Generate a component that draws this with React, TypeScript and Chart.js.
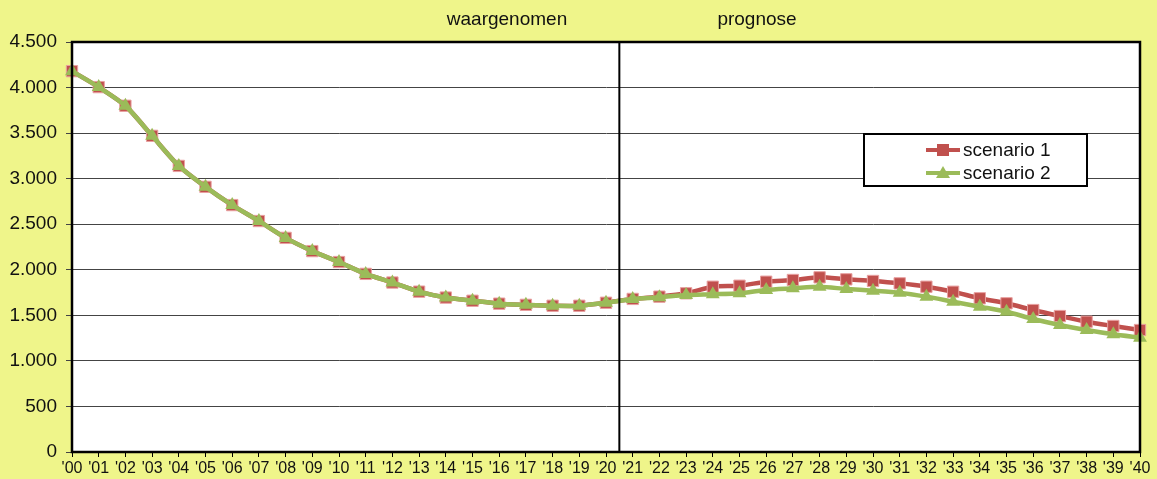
import React, { useEffect, useRef } from "react";
import { Chart, registerables } from "chart.js";

Chart.register(...registerables);

const years: string[] = [
  "'00","'01","'02","'03","'04","'05","'06","'07","'08","'09",
  "'10","'11","'12","'13","'14","'15","'16","'17","'18","'19",
  "'20","'21","'22","'23","'24","'25","'26","'27","'28","'29",
  "'30","'31","'32","'33","'34","'35","'36","'37","'38","'39","'40",
];

const observed: number[] = [
  4180, 4005, 3800, 3470, 3140, 2910, 2710, 2535, 2350, 2205,
  2085, 1955, 1860, 1760, 1695, 1660, 1628, 1615, 1605, 1605, 1638,
];

const scenario1Forecast: number[] = [
  1680, 1705, 1742, 1814, 1825, 1869, 1888, 1917, 1895, 1877,
  1851, 1814, 1759, 1687, 1632, 1558, 1492, 1430, 1383, 1339,
];

const scenario2Forecast: number[] = [
  1680, 1698, 1723, 1731, 1742, 1778, 1796, 1814, 1789, 1771,
  1749, 1705, 1650, 1595, 1540, 1460, 1394, 1339, 1292, 1255,
];

const seriesNames: string[] = ["scenario 1", "scenario 2"];
const periodLabels: string[] = ["waargenomen", "prognose"];
const yTicks: number[] = [0, 500, 1000, 1500, 2000, 2500, 3000, 3500, 4000, 4500];

const scenario1 = [...observed, ...scenario1Forecast];
const scenario2 = [...observed, ...scenario2Forecast];

const RED = "#C0504D";
const GREEN = "#9BBB59";
const FONT = "Arial, 'Liberation Sans', sans-serif";

const framePlugin = {
  id: "frame",
  afterDatasetsDraw(chart: any) {
    const { ctx, chartArea } = chart;
    const xs = chart.scales.x;
    ctx.save();
    const x20 = xs.getPixelForValue(observed.length - 1);
    const x21 = xs.getPixelForValue(observed.length);
    const xd = (x20 + x21) / 2;
    ctx.strokeStyle = "#000";
    ctx.lineWidth = 2;
    ctx.beginPath();
    ctx.moveTo(xd, chartArea.top);
    ctx.lineTo(xd, chartArea.bottom);
    ctx.stroke();
    ctx.lineWidth = 2.5;
    ctx.strokeRect(chartArea.left, chartArea.top, chartArea.right - chartArea.left, chartArea.bottom - chartArea.top);
    ctx.fillStyle = "#111";
    ctx.font = "19px " + FONT;
    ctx.textAlign = "center";
    ctx.textBaseline = "middle";
    ctx.fillText(periodLabels[0], 507, 20);
    ctx.fillText(periodLabels[1], 757, 20);
    const bx = 864, by = 134, bw = 223, bh = 52;
    ctx.fillStyle = "#fff";
    ctx.fillRect(bx, by, bw, bh);
    ctx.strokeStyle = "#000";
    ctx.lineWidth = 2;
    ctx.strokeRect(bx, by, bw, bh);
    const rows = [
      { y: 150, color: RED, style: "rect", name: seriesNames[0] },
      { y: 173, color: GREEN, style: "triangle", name: seriesNames[1] },
    ];
    rows.forEach((r) => {
      ctx.strokeStyle = r.color;
      ctx.lineWidth = 4;
      ctx.beginPath();
      ctx.moveTo(926, r.y);
      ctx.lineTo(960, r.y);
      ctx.stroke();
      ctx.fillStyle = r.color;
      if (r.style === "rect") {
        ctx.fillRect(937, r.y - 6, 12, 12);
      } else {
        ctx.beginPath();
        ctx.moveTo(943, r.y - 7);
        ctx.lineTo(950, r.y + 5);
        ctx.lineTo(936, r.y + 5);
        ctx.closePath();
        ctx.fill();
      }
      ctx.fillStyle = "#111";
      ctx.font = "19px " + FONT;
      ctx.textAlign = "left";
      ctx.textBaseline = "middle";
      ctx.fillText(r.name, 963, r.y + 1);
    });
    ctx.restore();
  },
};

const bgPlugin = {
  id: "bg",
  beforeDraw(chart: any) {
    const { ctx, chartArea, width, height } = chart;
    ctx.save();
    ctx.fillStyle = "#EFF58A";
    ctx.fillRect(0, 0, width, height);
    ctx.fillStyle = "#fff";
    ctx.fillRect(chartArea.left, chartArea.top, chartArea.right - chartArea.left, chartArea.bottom - chartArea.top);
    ctx.restore();
  },
};

export default function App() {
  const ref = useRef<HTMLCanvasElement | null>(null);
  useEffect(() => {
    document.body.style.margin = "0";
    const chart = new Chart(ref.current as HTMLCanvasElement, {
      type: "line",
      data: {
        labels: years,
        datasets: [
          {
            label: seriesNames[0],
            data: scenario1,
            borderColor: RED,
            backgroundColor: RED,
            borderWidth: 4.5,
            pointStyle: "rect",
            pointRadius: 8,
            pointBorderWidth: 1,
            pointBorderColor: "#E8A0A0",
            tension: 0.25,
            order: 2,
          },
          {
            label: seriesNames[1],
            data: scenario2,
            borderColor: GREEN,
            backgroundColor: GREEN,
            borderWidth: 4.5,
            pointStyle: "triangle",
            pointRadius: 8,
            pointBorderWidth: 0,
            tension: 0.25,
            order: 1,
          },
        ],
      },
      options: {
        animation: false,
        responsive: false,
        maintainAspectRatio: false,
        layout: { padding: { left: 0, top: 42, right: 17, bottom: 0 } },
        plugins: { legend: { display: false }, tooltip: { enabled: false } },
        scales: {
          x: {
            offset: false,
            afterFit: (s: any) => { s.height = 27; },
            grid: { drawOnChartArea: false, color: "#000", tickLength: 5, tickWidth: 1 },
            border: { color: "#000", width: 2 },
            ticks: {
              autoSkip: false,
              maxRotation: 0,
              color: "#111",
              padding: 2,
              font: { family: FONT, size: 16 },
            },
          },
          y: {
            min: 0,
            max: 4500,
            afterFit: (s: any) => { s.width = 72; },
            afterBuildTicks: (s: any) => { s.ticks = yTicks.map((v) => ({ value: v })); },
            grid: { color: "#444", lineWidth: 1, tickLength: 6 },
            border: { color: "#000", width: 2 },
            ticks: {
              color: "#111",
              padding: 9,
              font: { family: FONT, size: 19 },
              callback: (v: any) => String(v).replace(/\B(?=(\d{3})+(?!\d))/g, "."),
            },
          },
        },
      },
      plugins: [bgPlugin, framePlugin],
    });
    return () => chart.destroy();
  }, []);
  return (
    <div style={{ width: 1157, height: 479 }}>
      <canvas ref={ref} width={1157} height={479} style={{ display: "block" }} />
    </div>
  );
}
